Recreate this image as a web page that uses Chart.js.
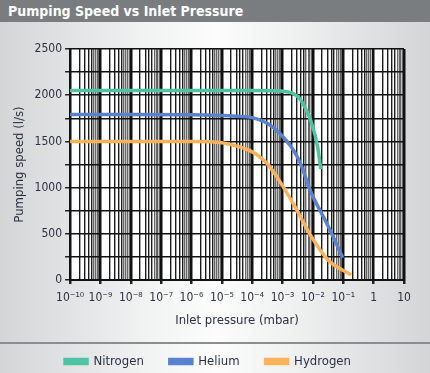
<!DOCTYPE html>
<html>
<head>
<meta charset="utf-8">
<script src="https://cdn.jsdelivr.net/npm/chart.js@4.4.1/dist/chart.umd.min.js"></script>
<style>
  html, body { margin: 0; padding: 0; }
  body {
    width: 430px; height: 373px; overflow: hidden; position: relative;
    background: linear-gradient(to right, #d3d5d7 0%, #f2f3f3 35%, #fcfcfc 50%, #eeefef 70%, #d3d5d7 100%);
    font-family: "Liberation Sans Narrow", "DejaVu Sans Condensed", sans-serif;
  }
  #titlebar {
    position: absolute; left: 0; top: 0; width: 430px; height: 22px;
    background: #7a7d80; color: #fff; font-weight: bold; font-size: 14px;
    line-height: 22px; padding-left: 8px; box-sizing: border-box;
  }
  #sep { position: absolute; left: 0; top: 342px; width: 430px; height: 2px; background: #8b8d90; }
  #wrap { position: absolute; left: 0; top: 0; width: 430px; height: 373px; }
</style>
</head>
<body>
<div id="titlebar">Pumping Speed vs Inlet Pressure</div>
<div id="sep"></div>
<div id="wrap"><canvas id="canvas" width="430" height="373"></canvas></div>
<script>
// pressure (mbar) and pumping speed (l/s)
const nitrogenPressure = [1e-10, 1e-8, 1e-6, 1e-4, 6e-4, 1.2e-3, 2e-3, 3e-3, 4e-3, 6e-3, 8.5e-3, 1.45e-2, 1.8e-2];
const nitrogenSpeed    = [2050, 2050, 2050, 2050, 2048, 2040, 2025, 1990, 1945, 1840, 1725, 1430, 1200];

const heliumPressure = [1e-10, 1e-8, 1e-6, 1e-5, 3e-5, 9e-5, 3.3e-4, 1.1e-3, 2.4e-3, 4e-3, 8.5e-3, 3.1e-2, 9.6e-2];
const heliumSpeed    = [1790, 1790, 1788, 1780, 1772, 1760, 1690, 1540, 1395, 1250, 955, 590, 240];

const hydrogenPressure = [1e-10, 1e-8, 1e-6, 1e-5, 2.6e-5, 9e-5, 2e-4, 3.3e-4, 7e-4, 2.4e-3, 8.5e-3, 3.1e-2, 1.8e-1];
const hydrogenSpeed    = [1500, 1500, 1498, 1485, 1455, 1395, 1320, 1250, 1100, 810, 480, 220, 55];

const gases = ['Nitrogen', 'Helium', 'Hydrogen'];
const gasColors = ['#4fc4a2', '#5b82cc', '#ffb25a'];

const xDecades = [-10, -9, -8, -7, -6, -5, -4, -3, -2, -1, 0, 1];
const yTicks = [0, 250, 500, 750, 1000, 1250, 1500, 1750, 2000, 2250, 2500];

const sup = { '-': '\u207B', '0': '\u2070', '1': '\u00B9', '2': '\u00B2', '3': '\u00B3', '4': '\u2074',
  '5': '\u2075', '6': '\u2076', '7': '\u2077', '8': '\u2078', '9': '\u2079' };

function decadeLabel(e) {
  if (e === 0) return '1';
  if (e === 1) return '10';
  return '10' + String(e).split('').map(c => sup[c]).join('');
}

function toPoints(px, py) {
  return px.map((p, i) => ({ x: p, y: py[i] }));
}

function mantissa(v) {
  return Math.round(v / Math.pow(10, Math.floor(Math.log10(v) + 1e-9)));
}

const fontFam = '"Liberation Sans Narrow", "DejaVu Sans Condensed", sans-serif';
const textColor = '#2b3045';

const whiteArea = {
  id: 'whiteArea',
  beforeDraw(chart) {
    const { ctx, chartArea: a } = chart;
    ctx.save();
    ctx.fillStyle = '#ffffff';
    ctx.fillRect(a.left, a.top, a.right - a.left, a.bottom - a.top);
    ctx.restore();
  }
};

const ctx = document.getElementById('canvas').getContext('2d');

new Chart(ctx, {
  type: 'line',
  data: {
    datasets: [
      { label: gases[0], data: toPoints(nitrogenPressure, nitrogenSpeed) },
      { label: gases[1], data: toPoints(heliumPressure, heliumSpeed) },
      { label: gases[2], data: toPoints(hydrogenPressure, hydrogenSpeed) }
    ].map((d, i) => ({
      ...d,
      borderColor: gasColors[i],
      backgroundColor: gasColors[i],
      borderWidth: 3.5,
      pointRadius: 0,
      cubicInterpolationMode: 'monotone',
      fill: false
    }))
  },
  plugins: [whiteArea],
  options: {
    responsive: false,
    animation: false,
    devicePixelRatio: 1,
    layout: { padding: { top: 49, left: 12, right: 26, bottom: -5 } },
    plugins: {
      tooltip: { enabled: false },
      legend: {
        position: 'bottom',
        labels: {
          boxWidth: 22, boxHeight: 4, padding: 26,
          color: textColor,
          font: { family: fontFam, size: 13 }
        }
      }
    },
    scales: {
      x: {
        type: 'logarithmic',
        min: 1e-10,
        max: 10,
        afterBuildTicks(axis) {
          const t = [];
          xDecades.forEach(e => {
            const base = Math.pow(10, e);
            if (e === 1) { t.push({ value: base }); return; }
            for (let m = 1; m <= 9; m++) t.push({ value: m * base });
          });
          axis.ticks = t;
        },
        ticks: {
          autoSkip: false, maxRotation: 0, padding: 7,
          color: textColor,
          font: { family: fontFam, size: 12 },
          callback(v) {
            return mantissa(v) === 1 ? decadeLabel(Math.round(Math.log10(v))) : '';
          }
        },
        grid: {
          color(c) {
            const m = mantissa(c.tick.value);
            if (m === 1) return '#111111';
            return m <= 5 ? '#1c1c1c' : '#666666';
          },
          lineWidth(c) {
            return mantissa(c.tick.value) === 1 ? 2.5 : 1.4;
          },
          tickColor(c) {
            return mantissa(c.tick.value) === 1 ? '#222222' : 'rgba(0,0,0,0)';
          },
          tickLength: 4
        },
        border: { color: '#111111', width: 2 },
        title: {
          display: true, text: 'Inlet pressure (mbar)', color: textColor,
          font: { family: fontFam, size: 13 }, padding: { top: 0, bottom: 1 }
        }
      },
      y: {
        min: 0,
        max: 2500,
        afterBuildTicks(axis) {
          axis.ticks = yTicks.map(v => ({ value: v }));
        },
        ticks: {
          color: textColor, padding: 3,
          font: { family: fontFam, size: 12 },
          callback(v) { return v % 500 === 0 ? String(v) : ''; }
        },
        grid: { color: '#111111', lineWidth: 1.5, tickLength: 5, tickColor: '#222222' },
        border: { color: '#111111', width: 2 },
        title: {
          display: true, text: 'Pumping speed (l/s)', color: textColor,
          font: { family: fontFam, size: 13 }, padding: { top: 0, bottom: 4 }
        }
      }
    }
  }
});
</script>
</body>
</html>
